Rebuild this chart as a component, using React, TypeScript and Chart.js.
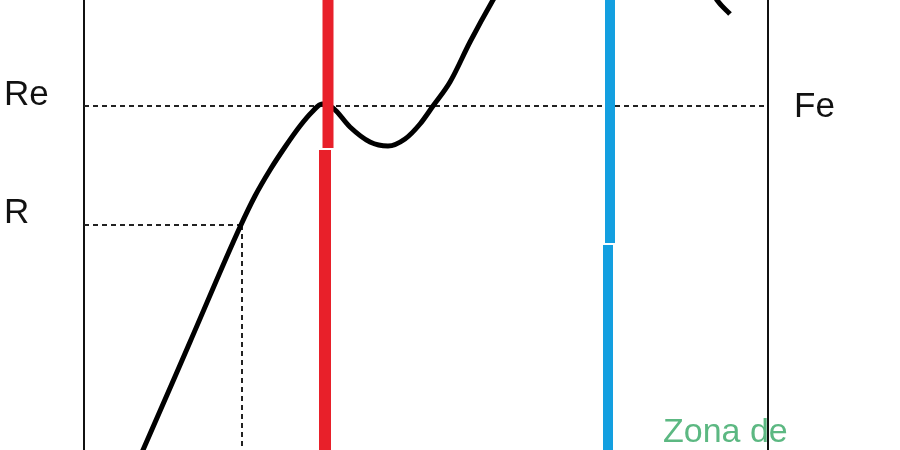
import { useEffect, useRef } from 'react';
import { Chart, registerables } from 'chart.js';

Chart.register(...registerables);

// stress–strain curve (strain, stress) in arbitrary units
const curveStrain = [13.5, 14.3, 19.0, 24.0, 25.5, 27.0, 28.5, 30.0, 31.2, 32.2, 33.3, 35.0, 37.0, 38.8, 40.5, 42.0, 43.3, 45.0, 47.0, 49.3, 52.0, 58.0, 64.0, 69.0, 71.7, 73.0];
const curveStress = [-1.8, 0, 10.8, 22.3, 25.4, 28.0, 30.3, 32.4, 33.8, 34.6, 34.2, 32.3, 30.8, 30.4, 31.1, 32.6, 34.4, 36.8, 40.8, 45.0, 49.5, 55.0, 54.0, 50.0, 45.0, 43.6];

// reference levels
const yieldUpper = 34.4; // Re
const yieldLow = 22.5; // R
const yieldLowStrain = 24.2;
const leftAxis = 8.4;
const rightAxis = 76.8;

// vertical zone markers: [top part, bottom part]
const redStrain = [32.8, 32.5];
const redBreak = [30.2, 30.0];
const blueStrain = [61.0, 60.8];
const blueBreak = [20.7, 20.5];

const leftLabels = ['Re', 'R'];
const rightLabels = ['Fe'];
const zoneLabel = 'Zona de';

const X_MAX = 90;
const Y_MAX = 45;

const labelsPlugin = {
  id: 'labels',
  beforeDatasetsDraw(chart: any) {
    const { ctx, scales } = chart;
    const x = scales.x;
    const y = scales.y;
    ctx.save();
    ctx.fillStyle = '#5cb882';
    ctx.font = '34px "Liberation Sans", Arial, sans-serif';
    ctx.textBaseline = 'alphabetic';
    ctx.fillText(zoneLabel, x.getPixelForValue(66.3), y.getPixelForValue(0.8));
    ctx.restore();
  },
  afterDatasetsDraw(chart: any) {
    const { ctx, scales } = chart;
    const x = scales.x;
    const y = scales.y;
    ctx.save();
    ctx.fillStyle = '#111';
    ctx.font = '35px "Liberation Sans", Arial, sans-serif';
    ctx.textAlign = 'left';
    ctx.textBaseline = 'alphabetic';
    ctx.fillText(leftLabels[0], 4, y.getPixelForValue(yieldUpper) - 1);
    ctx.fillText(leftLabels[1], 4, y.getPixelForValue(yieldLow) - 2);
    ctx.textBaseline = 'middle';
    ctx.fillText(rightLabels[0], x.getPixelForValue(rightAxis) + 26, y.getPixelForValue(yieldUpper) + 1);
    ctx.restore();
  },
};

export default function App() {
  const canvasRef = useRef<HTMLCanvasElement | null>(null);

  useEffect(() => {
    document.body.style.margin = '0';
    if (!canvasRef.current) return;

    const seg = (xs: number[], ys: number[]) => xs.map((v, i) => ({ x: v, y: ys[i] }));
    const dashed = { borderColor: '#222', borderWidth: 2, borderDash: [5, 4], showLine: true, pointRadius: 0, order: 3 };
    const solid = { borderColor: '#111', borderWidth: 2, showLine: true, pointRadius: 0, order: 4 };

    const chart = new Chart(canvasRef.current, {
      type: 'scatter',
      data: {
        datasets: [
          { ...solid, data: seg([leftAxis, leftAxis], [0, Y_MAX]) },
          { ...solid, data: seg([rightAxis, rightAxis], [0, Y_MAX]) },
          { ...dashed, data: seg([leftAxis, rightAxis], [yieldUpper, yieldUpper]) },
          { ...dashed, data: seg([leftAxis, yieldLowStrain], [yieldLow, yieldLow]) },
          { ...dashed, data: seg([yieldLowStrain, yieldLowStrain], [yieldLow, 0]) },
          {
            data: seg(curveStrain, curveStress),
            showLine: true,
            borderColor: '#000',
            borderWidth: 5,
            cubicInterpolationMode: 'monotone',
            pointRadius: 0,
            order: 2,
          },
          { data: seg([redStrain[0], redStrain[0]], [Y_MAX, redBreak[0]]), showLine: true, borderColor: '#e8202a', borderWidth: 11, pointRadius: 0, order: 1 },
          { data: seg([redStrain[1], redStrain[1]], [redBreak[1], 0]), showLine: true, borderColor: '#e8202a', borderWidth: 12, pointRadius: 0, order: 1 },
          { data: seg([blueStrain[0], blueStrain[0]], [Y_MAX, blueBreak[0]]), showLine: true, borderColor: '#139fe0', borderWidth: 10, pointRadius: 0, order: 1 },
          { data: seg([blueStrain[1], blueStrain[1]], [blueBreak[1], 0]), showLine: true, borderColor: '#139fe0', borderWidth: 10, pointRadius: 0, order: 1 },
        ],
      },
      options: {
        animation: false,
        responsive: true,
        maintainAspectRatio: false,
        layout: { padding: 0 },
        plugins: { legend: { display: false }, tooltip: { enabled: false } },
        scales: {
          x: { type: 'linear', min: 0, max: X_MAX, display: false },
          y: { type: 'linear', min: 0, max: Y_MAX, display: false },
        },
      },
      plugins: [labelsPlugin],
    });

    return () => chart.destroy();
  }, []);

  return (
    <div style={{ width: 900, height: 450, background: '#fff' }}>
      <canvas ref={canvasRef} />
    </div>
  );
}
